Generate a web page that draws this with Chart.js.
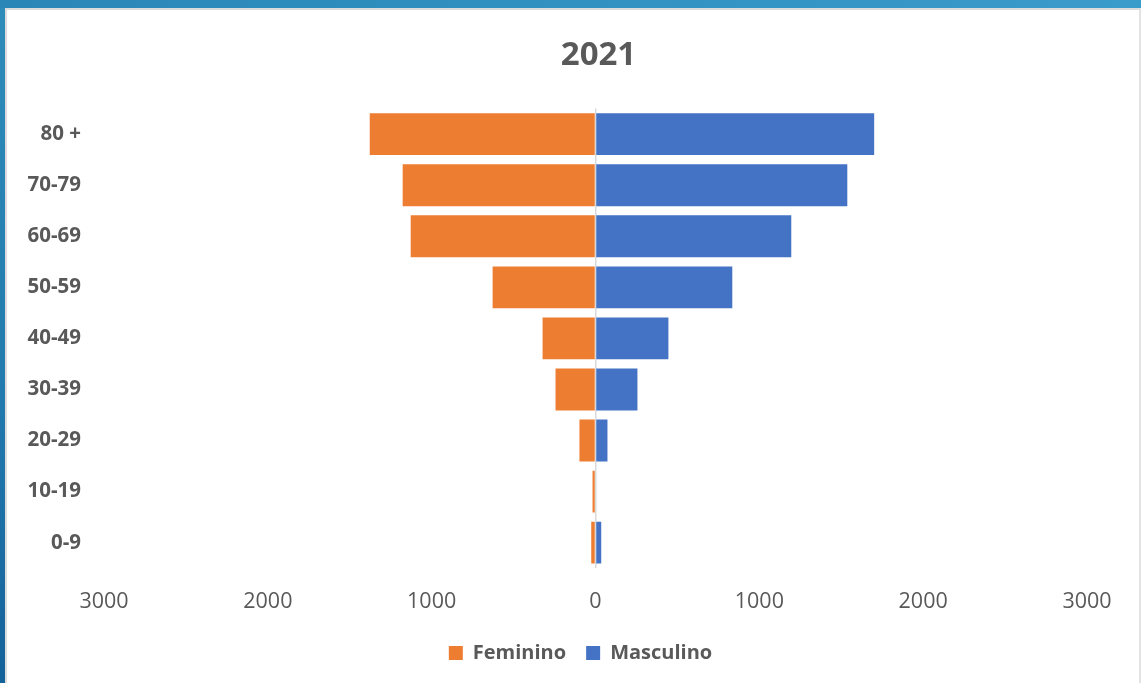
<!DOCTYPE html>
<html>
<head>
<meta charset="utf-8">
<script src="https://cdn.jsdelivr.net/npm/chart.js@4"></script>
<style>
html,body{margin:0;padding:0;width:1141px;height:683px;overflow:hidden;}
body{background:linear-gradient(180deg,#2e8cba 0%,#2279ad 60%,#14629a 100%);position:relative;}
#topbar{position:absolute;left:0;top:0;width:1141px;height:8px;background:linear-gradient(90deg,#2a86b6,#3a9ccb);}
#panel{position:absolute;left:5px;top:8px;width:1136px;height:675px;background:#fff;box-sizing:border-box;border-left:2.5px solid #dcdcdc;border-top:2px solid #dcdcdc;border-right:2px solid #e2e2e2;}
#wrap{position:absolute;left:0;top:0;width:1141px;height:683px;}
</style>
</head>
<body>
<div id="topbar"></div>
<div id="panel"></div>
<div id="wrap"><canvas id="c" width="1141" height="683"></canvas></div>
<script>
const categories = ["80 +", "70-79", "60-69", "50-59", "40-49", "30-39", "20-29", "10-19", "0-9"];
const feminino = [1378, 1177, 1128, 628, 323, 244, 98, 18, 26];
const masculino = [1701, 1537, 1195, 835, 445, 256, 73, 0, 35];
const xTicks = [-3000, -2000, -1000, 0, 1000, 2000, 3000];
const title = "2021";

const textColor = '#595959';
const fam = '"Open Sans", "Liberation Sans", sans-serif';

const shiftBlocks = {
  id: 'shiftBlocks',
  afterLayout(chart) {
    if (chart.titleBlock) { chart.titleBlock.left += 55; chart.titleBlock.right += 55; }
    if (chart.legend) { chart.legend.left += 37; chart.legend.right += 37; }
  }
};

new Chart(document.getElementById('c'), {
  type: 'bar',
  data: {
    labels: categories,
    datasets: [
      {label: 'Feminino', data: feminino.map(v => -v), backgroundColor: '#ED7D31', borderWidth: 0, categoryPercentage: 1, barPercentage: 0.82},
      {label: 'Masculino', data: masculino, backgroundColor: '#4472C4', borderWidth: 0, categoryPercentage: 1, barPercentage: 0.82}
    ]
  },
  plugins: [shiftBlocks],
  options: {
    indexAxis: 'y',
    responsive: false,
    animation: false,
    devicePixelRatio: 1,
    layout: {padding: {top: 10, right: 54, bottom: 10, left: 0}},
    plugins: {
      title: {display: true, text: title, color: textColor, font: {family: fam, size: 33, weight: 'bold'}, padding: {top: 26, bottom: 33}},
      legend: {position: 'bottom', labels: {color: textColor, font: {family: fam, size: 20, weight: 'bold'}, boxWidth: 14, boxHeight: 14, padding: 20}},
      tooltip: {enabled: false}
    },
    scales: {
      x: {
        stacked: true, min: -3000, max: 3000,
        afterBuildTicks: s => { s.ticks = xTicks.map(v => ({value: v})); },
        afterFit: s => { s.height -= 13; },
        ticks: {color: textColor, font: {family: fam, size: 21.5}, padding: 21, callback: v => Math.abs(v)},
        grid: {drawTicks: false, color: ctx => (ctx.tick && ctx.tick.value === 0) ? '#d9d9d9' : 'rgba(0,0,0,0)', lineWidth: 1.5},
        border: {display: false}
      },
      y: {
        stacked: true,
        afterFit: s => { s.width = 104; },
        ticks: {color: textColor, font: {family: fam, size: 20.5, weight: 'bold'}, padding: 15},
        grid: {display: false},
        border: {display: false}
      }
    }
  }
});
</script>
</body>
</html>
